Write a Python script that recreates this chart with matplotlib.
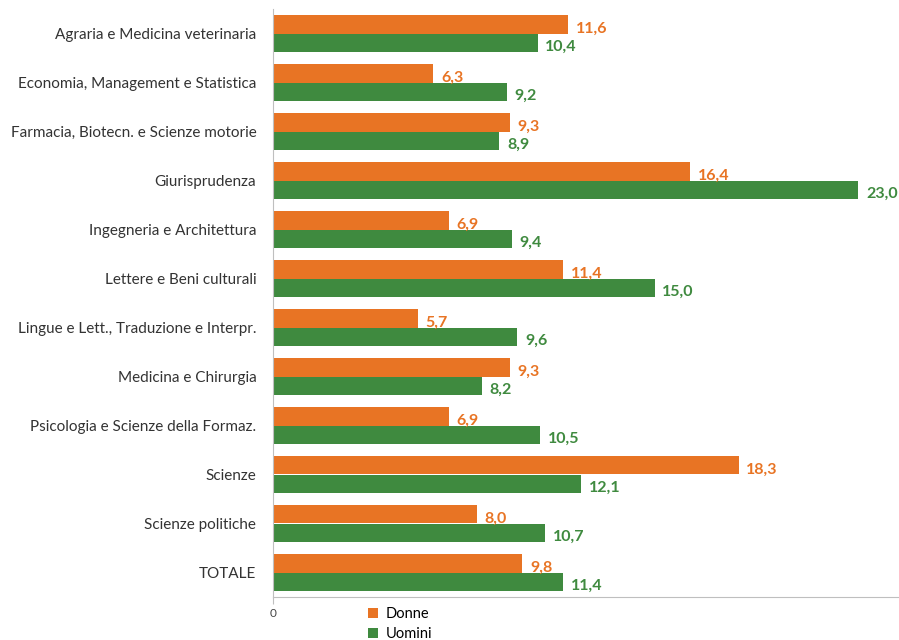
import matplotlib
matplotlib.use("Agg")
import matplotlib.pyplot as plt
import numpy as np

plt.rcParams['font.family'] = ['Lato', 'DejaVu Sans']

# dati
categorie = [
    "Agraria e Medicina veterinaria",
    "Economia, Management e Statistica",
    "Farmacia, Biotecn. e Scienze motorie",
    "Giurisprudenza",
    "Ingegneria e Architettura",
    "Lettere e Beni culturali",
    "Lingue e Lett., Traduzione e Interpr.",
    "Medicina e Chirurgia",
    "Psicologia e Scienze della Formaz.",
    "Scienze",
    "Scienze politiche",
    "TOTALE",
]
donne = [11.6, 6.3, 9.3, 16.4, 6.9, 11.4, 5.7, 9.3, 6.9, 18.3, 8.0, 9.8]
uomini = [10.4, 9.2, 8.9, 23.0, 9.4, 15.0, 9.6, 8.2, 10.5, 12.1, 10.7, 11.4]

col_donne = "#E87424"
col_uomini = "#3F8A3F"

fig = plt.figure(figsize=(8.99, 6.4), dpi=100)
ax = fig.add_axes([273 / 899, 43 / 640, 1 - 273 / 899, 588 / 640])

y = np.arange(len(categorie))
h = 0.37

ax.barh(y - h / 2, donne, height=h, color=col_donne, label="Donne")
ax.barh(y + h / 2, uomini, height=h, color=col_uomini, label="Uomini")

# etichette valori
for i in range(len(categorie)):
    ax.text(donne[i] + 0.3, y[i] - h / 2 + 0.08, f"{donne[i]:.1f}".replace(".", ","),
            va="center", ha="left", color=col_donne, fontsize=11.5, fontweight="bold")
    ax.text(uomini[i] + 0.3, y[i] + h / 2 + 0.08, f"{uomini[i]:.1f}".replace(".", ","),
            va="center", ha="left", color=col_uomini, fontsize=11.5, fontweight="bold")

ax.set_ylim(len(categorie) - 0.5, -0.5)
ax.set_xlim(0, 24.6)
ax.set_yticks(y)
ax.set_yticklabels(categorie, fontsize=11, color="#333333")
ax.set_xticks([0])
ax.set_xticklabels(["0"], fontsize=8.5, color="#444444")

for s in ["top", "right"]:
    ax.spines[s].set_visible(False)
ax.spines["left"].set_color("#BFBFBF")
ax.spines["bottom"].set_color("#BFBFBF")
ax.tick_params(axis="y", length=0, pad=12)
ax.tick_params(axis="x", length=5, color="#BFBFBF", pad=3)

fig.legend(loc="upper left", bbox_to_anchor=(362 / 899, 1 - 601 / 640), frameon=False,
           fontsize=10.5, handlelength=0.7, handleheight=0.7, handletextpad=0.5,
           labelspacing=0.45, borderaxespad=0)

fig.savefig("out.png", dpi=100)
